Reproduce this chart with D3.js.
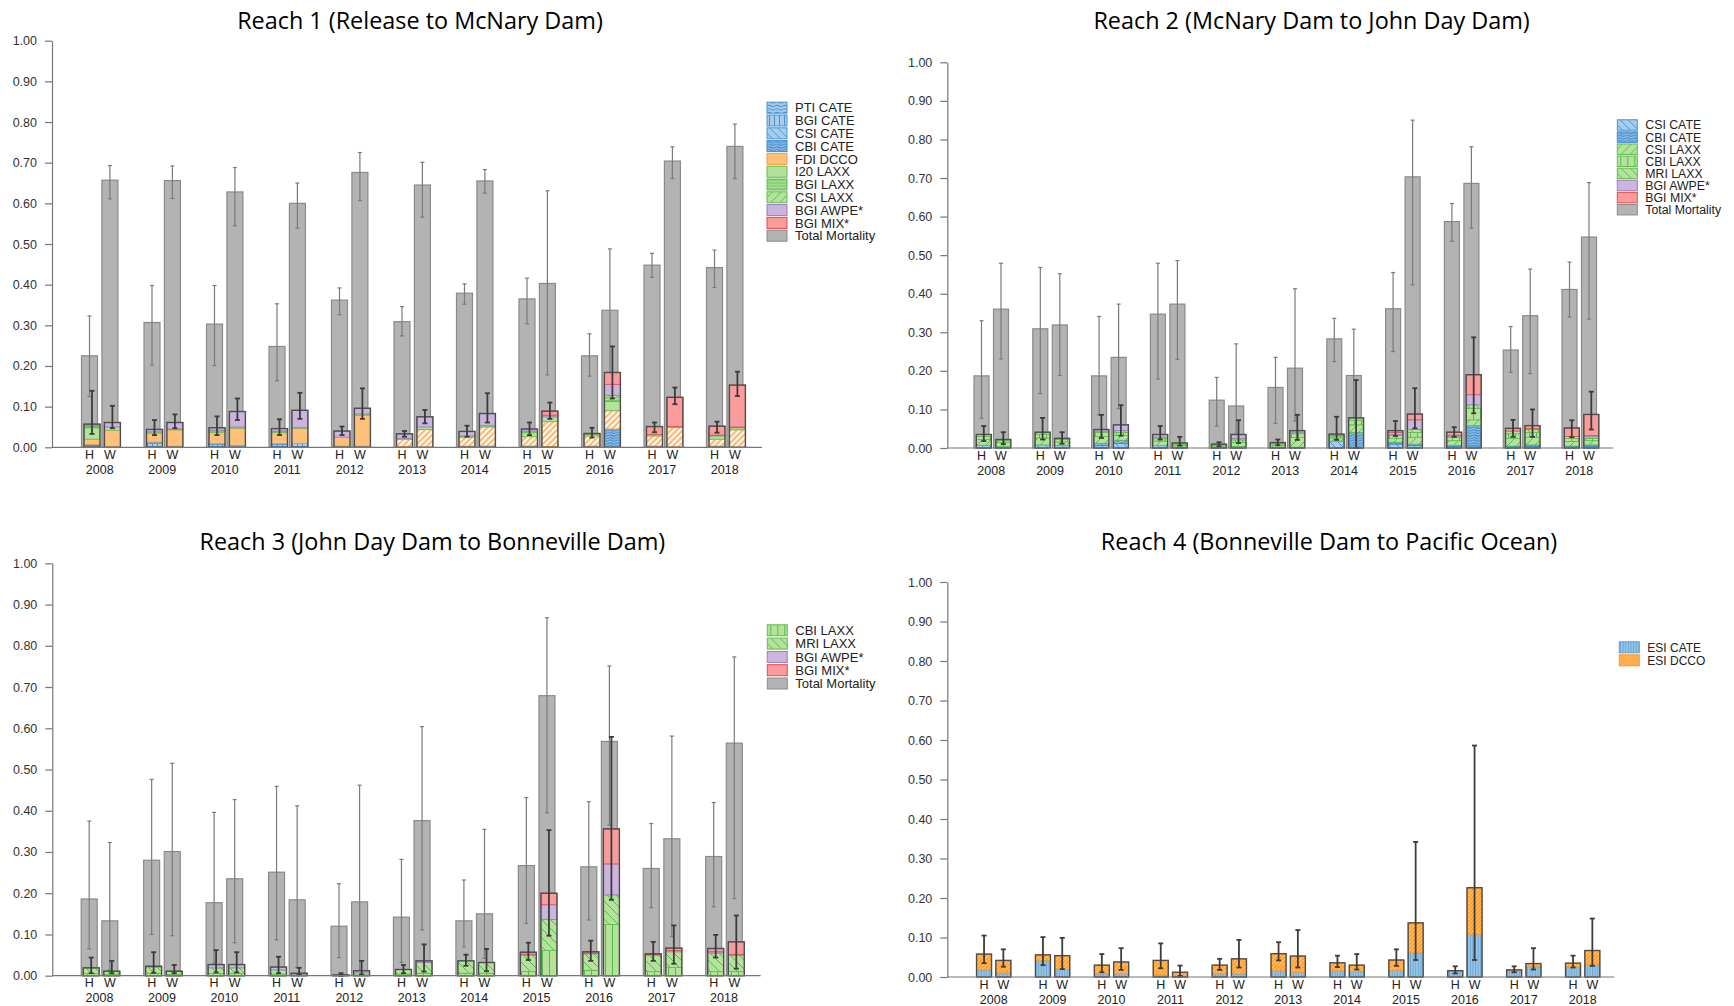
<!DOCTYPE html>
<html>
<head>
<meta charset="utf-8">
<script src="https://cdn.jsdelivr.net/npm/d3@7"></script>
<style>
body { margin: 0; background: #fff; }
text { font-family: "Liberation Sans", Arial, sans-serif; }
.title { font-family: "Open Sans", sans-serif; font-size: 23.4px; fill: #000; }
</style>
</head>
<body>
<svg id="chart" width="1734" height="1006"></svg>
<script>
var years = [2008, 2009, 2010, 2011, 2012, 2013, 2014, 2015, 2016, 2017, 2018];
var rearTypes = ["H", "W"];

// ---- Reach 1 ----
var r1Species = ["PTI CATE", "BGI CATE", "CSI CATE", "CBI CATE", "FDI DCCO", "I20 LAXX", "BGI LAXX", "CSI LAXX", "BGI AWPE*", "BGI MIX*"];
var r1H = [
    [0.002, 0.003, 0, 0.002, 0.013, 0.028, 0.003, 0.002, 0.004, 0],
    [0.002, 0.008, 0.003, 0, 0.022, 0.003, 0, 0, 0.006, 0],
    [0.002, 0.005, 0.002, 0, 0.027, 0.004, 0.002, 0, 0.006, 0],
    [0.002, 0.005, 0.002, 0, 0.027, 0.003, 0.001, 0, 0.006, 0],
    [0.001, 0.002, 0, 0, 0.022, 0, 0, 0, 0.015, 0],
    [0, 0.001, 0, 0, 0.019, 0.002, 0, 0, 0.011, 0],
    [0.001, 0.002, 0, 0, 0.022, 0.003, 0, 0, 0.011, 0],
    [0.001, 0.002, 0, 0, 0.023, 0.010, 0.004, 0, 0.005, 0],
    [0.001, 0.002, 0, 0, 0.025, 0.004, 0.002, 0, 0, 0],
    [0.001, 0.002, 0, 0, 0.025, 0.003, 0, 0, 0, 0.020],
    [0.001, 0.002, 0, 0, 0.017, 0.008, 0, 0, 0.002, 0.022]
];
var r1W = [
    [0, 0.001, 0, 0, 0.041, 0.008, 0, 0, 0.011, 0],
    [0, 0.003, 0, 0, 0.040, 0.002, 0, 0, 0.016, 0],
    [0.001, 0.004, 0, 0, 0.042, 0.003, 0, 0, 0.038, 0],
    [0.002, 0.008, 0, 0, 0.037, 0.001, 0, 0, 0.043, 0],
    [0, 0.003, 0, 0, 0.076, 0.003, 0, 0, 0.014, 0],
    [0, 0, 0, 0, 0.044, 0.006, 0, 0, 0.025, 0],
    [0, 0.003, 0, 0, 0.047, 0.003, 0, 0, 0.030, 0],
    [0, 0.002, 0, 0, 0.061, 0.012, 0, 0, 0.004, 0.010],
    [0, 0, 0, 0.045, 0.045, 0.023, 0.015, 0, 0.027, 0.029],
    [0, 0, 0, 0, 0.049, 0.002, 0, 0, 0, 0.072],
    [0, 0, 0, 0, 0.043, 0.005, 0, 0, 0.002, 0.103]
];
var r1ErrH = [[0.033, 0.139], [0.030, 0.067], [0.030, 0.076], [0.030, 0.069], [0.030, 0.051], [0.026, 0.040], [0.026, 0.053], [0.030, 0.061], [0.024, 0.048], [0.037, 0.061], [0.036, 0.063]];
var r1ErrW = [[0.047, 0.102], [0.047, 0.081], [0.067, 0.120], [0.070, 0.134], [0.070, 0.145], [0.059, 0.092], [0.061, 0.133], [0.070, 0.110], [0.120, 0.248], [0.106, 0.147], [0.126, 0.186]];
// total mortality: [estimate, lower, upper]
var r1TotH = [[0.225, 0.125, 0.323], [0.307, 0.202, 0.398], [0.303, 0.201, 0.398], [0.248, 0.164, 0.353], [0.362, 0.326, 0.392], [0.309, 0.274, 0.346], [0.379, 0.352, 0.402], [0.365, 0.304, 0.416], [0.225, 0.175, 0.279], [0.448, 0.418, 0.477], [0.442, 0.393, 0.485]];
var r1TotW = [[0.657, 0.611, 0.693], [0.656, 0.612, 0.692], [0.628, 0.545, 0.688], [0.600, 0.539, 0.650], [0.676, 0.607, 0.725], [0.645, 0.566, 0.701], [0.655, 0.625, 0.683], [0.403, 0.178, 0.631], [0.337, 0.180, 0.488], [0.704, 0.661, 0.739], [0.740, 0.661, 0.795]];
var r1HatchedDccoYears = [2013, 2014, 2015, 2016, 2017, 2018];

// ---- Reach 2 ----
var r2Species = ["CSI CATE", "CBI CATE", "CSI LAXX", "CBI LAXX", "MRI LAXX", "BGI AWPE*", "BGI MIX*"];
var r2H = [
    [0.007, 0, 0.015, 0.008, 0.005, 0, 0],
    [0.008, 0, 0.018, 0.010, 0.005, 0, 0],
    [0.006, 0.006, 0.018, 0.010, 0.004, 0.004, 0],
    [0.006, 0, 0.012, 0.006, 0.004, 0.007, 0],
    [0.001, 0, 0.004, 0.003, 0.002, 0, 0],
    [0.002, 0, 0.006, 0.004, 0.002, 0, 0],
    [0.018, 0, 0.008, 0.005, 0.002, 0.003, 0],
    [0.010, 0.005, 0.010, 0.007, 0.003, 0.005, 0.005],
    [0.004, 0.003, 0.012, 0.008, 0.004, 0.002, 0.008],
    [0.003, 0.002, 0.020, 0.012, 0.007, 0, 0.007],
    [0.003, 0.002, 0.012, 0.008, 0.005, 0, 0.022]
];
var r2W = [
    [0.004, 0, 0.010, 0.005, 0.003, 0, 0],
    [0.006, 0, 0.010, 0.006, 0.003, 0, 0],
    [0.012, 0.008, 0.012, 0.008, 0.005, 0.015, 0],
    [0.002, 0, 0.004, 0.004, 0.003, 0, 0],
    [0.004, 0, 0.010, 0.007, 0.004, 0.010, 0],
    [0.002, 0, 0.025, 0.010, 0.004, 0.004, 0],
    [0, 0.040, 0.020, 0.012, 0.006, 0, 0],
    [0.006, 0.004, 0.018, 0.012, 0.008, 0.025, 0.015],
    [0.005, 0.053, 0.015, 0.030, 0.009, 0.026, 0.052],
    [0.004, 0.004, 0.020, 0.012, 0.008, 0.002, 0.008],
    [0.004, 0.004, 0.011, 0.006, 0.004, 0.003, 0.055]
];
var r2ErrH = [[0.018, 0.057], [0.022, 0.078], [0.026, 0.086], [0.022, 0.057], [0.004, 0.015], [0.007, 0.022], [0.021, 0.081], [0.031, 0.070], [0.029, 0.054], [0.029, 0.073], [0.028, 0.072]];
var r2ErrW = [[0.010, 0.041], [0.011, 0.041], [0.032, 0.111], [0.006, 0.029], [0.013, 0.072], [0.021, 0.086], [0.000, 0.176], [0.051, 0.155], [0.090, 0.287], [0.029, 0.100], [0.048, 0.146]];
var r2TotH = [[0.187, 0.077, 0.330], [0.309, 0.141, 0.468], [0.187, 0.086, 0.341], [0.347, 0.179, 0.479], [0.124, 0.057, 0.183], [0.157, 0.064, 0.235], [0.283, 0.224, 0.336], [0.361, 0.250, 0.455], [0.587, 0.536, 0.634], [0.254, 0.196, 0.315], [0.411, 0.339, 0.482]];
var r2TotW = [[0.360, 0.231, 0.479], [0.319, 0.188, 0.452], [0.235, 0.102, 0.373], [0.373, 0.230, 0.486], [0.109, 0.005, 0.270], [0.207, 0.070, 0.413], [0.188, 0.070, 0.308], [0.703, 0.423, 0.850], [0.686, 0.570, 0.781], [0.343, 0.193, 0.464], [0.547, 0.334, 0.688]];

// ---- Reach 3 ----
var r3Species = ["CBI LAXX", "MRI LAXX", "BGI AWPE*", "BGI MIX*"];
var r3H = [[0.005, 0.014, 0, 0], [0.006, 0.015, 0.002, 0], [0.005, 0.014, 0.008, 0], [0.004, 0.010, 0.007, 0], [0.001, 0.001, 0, 0], [0.004, 0.011, 0, 0], [0.006, 0.030, 0, 0], [0.010, 0.040, 0.002, 0.005], [0.013, 0.040, 0.002, 0.003], [0.010, 0.040, 0.001, 0.002], [0.010, 0.045, 0.003, 0.008]];
var r3W = [[0.003, 0.008, 0, 0], [0.003, 0.007, 0.001, 0], [0.005, 0.014, 0.008, 0], [0.001, 0.003, 0.002, 0], [0.002, 0.005, 0.005, 0], [0.006, 0.026, 0.004, 0], [0.006, 0.026, 0, 0], [0.061, 0.075, 0.036, 0.028], [0.124, 0.072, 0.075, 0.085], [0.020, 0.038, 0.003, 0.006], [0.010, 0.039, 0.003, 0.030]];
var r3ErrH = [[0.006, 0.044], [0.007, 0.057], [0.008, 0.062], [0.006, 0.046], [0, 0.006], [0.006, 0.026], [0.024, 0.051], [0.038, 0.080], [0.036, 0.085], [0.036, 0.082], [0.044, 0.099]];
var r3ErrW = [[0.006, 0.036], [0.006, 0.026], [0.008, 0.057], [0.002, 0.019], [0.003, 0.036], [0.010, 0.076], [0.011, 0.065], [0.097, 0.353], [0.184, 0.579], [0.029, 0.122], [0.017, 0.146]];
var r3TotH = [[0.186, 0.065, 0.375], [0.280, 0.100, 0.476], [0.177, 0.030, 0.396], [0.251, 0.087, 0.459], [0.120, 0.044, 0.223], [0.142, 0.032, 0.282], [0.133, 0.070, 0.232], [0.267, 0.127, 0.432], [0.264, 0.135, 0.422], [0.260, 0.165, 0.369], [0.289, 0.167, 0.420]];
var r3TotW = [[0.133, 0.014, 0.323], [0.301, 0.097, 0.515], [0.235, 0.080, 0.427], [0.184, 0.020, 0.412], [0.179, 0.010, 0.462], [0.376, 0.111, 0.604], [0.150, 0.042, 0.355], [0.679, 0.395, 0.868], [0.568, 0.365, 0.751], [0.332, 0.095, 0.581], [0.564, 0.187, 0.773]];

// ---- Reach 4 ----
var r4Species = ["ESI CATE", "ESI DCCO"];
var r4H = [[0.018, 0.040], [0.042, 0.014], [0.008, 0.022], [0.005, 0.037], [0.008, 0.022], [0.016, 0.043], [0.016, 0.020], [0.017, 0.026], [0.014, 0.002], [0.015, 0.003], [0.025, 0.010]];
var r4W = [[0.010, 0.032], [0.020, 0.034], [0.008, 0.030], [0.002, 0.010], [0.008, 0.038], [0.012, 0.041], [0.014, 0.016], [0.061, 0.076], [0.108, 0.118], [0.026, 0.008], [0.032, 0.035]];
var r4ErrH = [[0.035, 0.105], [0.030, 0.101], [0.012, 0.058], [0.022, 0.085], [0.018, 0.046], [0.042, 0.088], [0.025, 0.054], [0.028, 0.070], [0.009, 0.027], [0.012, 0.027], [0.024, 0.054]];
var r4ErrW = [[0.026, 0.070], [0.020, 0.099], [0.018, 0.073], [0.003, 0.029], [0.024, 0.094], [0.024, 0.119], [0.019, 0.058], [0.043, 0.342], [0.043, 0.586], [0.019, 0.073], [0.028, 0.148]];

// fill styles per legend key
var speciesStyle = {
    "PTI CATE":  {base: "#a8cdea", line: "#3d8bd1", kind: "wave", s: 3.5, stroke: "#4b95d4"},
    "BGI CATE":  {base: "#a8cdea", line: "#3d8bd1", kind: "vert", s: 5, stroke: "#4b95d4"},
    "CSI CATE":  {base: "#a8cdea", line: "#3d8bd1", kind: "back", s: 8, stroke: "#4b95d4"},
    "CBI CATE":  {base: "#92c1e6", line: "#2f7fca", kind: "wave", s: 2.6, stroke: "#3f8bd0"},
    "FDI DCCO":  {base: "#fec07b", kind: "solid", stroke: "#f0a040"},
    "FDI DCCO hatched": {base: "#fec07b", line: "#ffffff", kind: "fwd", s: 6, w: 1.6, stroke: "#f0a040"},
    "I20 LAXX":  {base: "#b4e29a", kind: "solid", stroke: "#5fbc4f"},
    "BGI LAXX":  {base: "#b4e29a", line: "#4cb543", kind: "wave", s: 3, stroke: "#5fbc4f"},
    "CSI LAXX":  {base: "#b4e29a", line: "#4cb543", kind: "fwd", s: 9, stroke: "#5fbc4f"},
    "CBI LAXX":  {base: "#b4e29a", line: "#4cb543", kind: "vert", s: 7, stroke: "#5fbc4f"},
    "MRI LAXX":  {base: "#b4e29a", line: "#4cb543", kind: "back", s: 9, stroke: "#5fbc4f"},
    "BGI AWPE*": {base: "#cbb4dd", kind: "solid", stroke: "#9a7cc2"},
    "BGI MIX*":  {base: "#fb9c9c", kind: "solid", stroke: "#e64a4d"},
    "Total Mortality": {base: "#b3b3b3", kind: "solid", stroke: "#8a8a8a"},
    "ESI CATE":  {base: "#96c4e6", line: "#5d9fd0", kind: "vert", s: 2.6, w: 0.7, stroke: "#5d9fd0"},
    "ESI DCCO":  {base: "#ffa63f", line: "#ffc680", kind: "fwd", s: 4, stroke: "#f59a30"}
};

var panels = [
    {title: "Reach 1 (Release to McNary Dam)", titleX: 420, titleY: 29,
     axisX: 52, yTop: 40.7, yBottom: 447.3, xEnd: 762, firstCenter: 99.7, step: 62.5, barW: 16, sep: 20.4, shift: 2.5,
     legendX: 767, legendY: 107.7, rowH: 12.8, legendFont: 13,
     species: r1Species, compH: r1H, compW: r1W, errH: r1ErrH, errW: r1ErrW, totH: r1TotH, totW: r1TotW, hatched: r1HatchedDccoYears},
    {title: "Reach 2 (McNary Dam to John Day Dam)", titleX: 1311.6, titleY: 29,
     axisX: 947.3, yTop: 62.3, yBottom: 448, xEnd: 1613.3, firstCenter: 991.25, step: 58.8, barW: 15, sep: 19.5, shift: 2.3,
     legendX: 1617.3, legendY: 125, rowH: 12.1, legendFont: 12.3,
     species: r2Species, compH: r2H, compW: r2W, errH: r2ErrH, errW: r2ErrW, totH: r2TotH, totW: r2TotW, hatched: []},
    {title: "Reach 3 (John Day Dam to Bonneville Dam)", titleX: 432.4, titleY: 550,
     axisX: 52.3, yTop: 563.3, yBottom: 975.7, xEnd: 760.7, firstCenter: 99.5, step: 62.45, barW: 16, sep: 20.6, shift: 2,
     legendX: 767.3, legendY: 630.3, rowH: 13.3, legendFont: 13,
     species: r3Species, compH: r3H, compW: r3W, errH: r3ErrH, errW: r3ErrW, totH: r3TotH, totW: r3TotW, hatched: []},
    {title: "Reach 4 (Bonneville Dam to Pacific Ocean)", titleX: 1329, titleY: 550,
     axisX: 947.3, yTop: 582, yBottom: 977, xEnd: 1614.3, firstCenter: 993.7, step: 58.9, barW: 15, sep: 19.3, shift: 0,
     legendX: 1619.3, legendY: 647.3, rowH: 13, legendFont: 12,
     species: r4Species, compH: r4H, compW: r4W, errH: r4ErrH, errW: r4ErrW, totH: null, totW: null, hatched: []}
];

var svg = d3.select("#chart");
var defs = svg.append("defs");

function patId(name) { return "pat-" + name.replace(/[^A-Za-z0-9]/g, "_"); }

// build one pattern per style
Object.keys(speciesStyle).forEach(function(name) {
    var st = speciesStyle[name];
    var s = st.s || 6, w = st.w || 0.9;
    var tw = st.kind === "wave" ? 8 : s;
    var p = defs.append("pattern")
        .attr("id", patId(name))
        .attr("patternUnits", "userSpaceOnUse")
        .attr("width", tw).attr("height", s);
    p.append("rect").attr("width", tw).attr("height", s).attr("fill", st.base);
    var d = null;
    if (st.kind === "vert") d = "M" + s / 2 + ",0V" + s;
    if (st.kind === "fwd") d = "M0," + s + "L" + s + ",0M-1,1L1,-1M" + (s - 1) + "," + (s + 1) + "L" + (s + 1) + "," + (s - 1);
    if (st.kind === "back") d = "M0,0L" + s + "," + s + "M-1," + (s - 1) + "L1," + (s + 1) + "M" + (s - 1) + ",-1L" + (s + 1) + ",1";
    if (st.kind === "wave") d = "M0," + s / 2 + "Q2," + (s / 2 - 1.3) + " 4," + s / 2 + "T8," + s / 2;
    if (d) p.append("path").attr("d", d).attr("fill", "none").attr("stroke", st.line).attr("stroke-width", w);
});

function errorBar(g, cx, lo, hi, y, color, width, cap) {
    g.append("line").attr("x1", cx).attr("x2", cx).attr("y1", y(lo)).attr("y2", y(hi))
        .attr("stroke", color).attr("stroke-width", width);
    [lo, hi].forEach(function(v) {
        g.append("line").attr("x1", cx - cap / 2).attr("x2", cx + cap / 2).attr("y1", y(v)).attr("y2", y(v))
            .attr("stroke", color).attr("stroke-width", width);
    });
}

function drawPanel(p) {
    var g = svg.append("g");
    var y = d3.scaleLinear().domain([0, 1]).range([p.yBottom, p.yTop]);
    var x0 = d3.scaleBand().domain(years)
        .range([p.firstCenter - p.step / 2, p.firstCenter + p.step * (years.length - 0.5)]);
    var half = (p.sep + p.barW) / 2;
    var x1 = d3.scaleBand().domain(rearTypes)
        .range([x0.bandwidth() / 2 - half, x0.bandwidth() / 2 + half])
        .paddingInner((p.sep - p.barW) / p.sep);

    // rows for stacking
    var rows = [];
    years.forEach(function(yr, i) {
        rearTypes.forEach(function(rt) {
            var comp = rt === "H" ? p.compH[i] : p.compW[i];
            var row = {year: yr, rt: rt, err: rt === "H" ? p.errH[i] : p.errW[i]};
            if (p.totH) row.tot = rt === "H" ? p.totH[i] : p.totW[i];
            p.species.forEach(function(sp, k) { row[sp] = comp[k]; });
            rows.push(row);
        });
    });
    var series = d3.stack().keys(p.species)(rows);

    // y axis
    var ax = g.append("g").attr("transform", "translate(" + p.axisX + ",0)")
        .call(d3.axisLeft(y).tickValues(d3.range(0, 1.001, 0.1)).tickFormat(d3.format(".2f"))
            .tickSize(7).tickSizeOuter(0).tickPadding(8));
    ax.select(".domain").attr("stroke", "#777").attr("stroke-width", 1.2);
    ax.selectAll(".tick line").attr("stroke", "#777").attr("stroke-width", 1.2);
    ax.selectAll(".tick text").attr("fill", "#333").style("font-size", "12.5px")
        .style("font-family", "'Liberation Sans', Arial, sans-serif");

    // total mortality bars
    if (p.totH) {
        g.selectAll(".tot").data(rows).join("rect")
            .attr("x", function(d) { return x0(d.year) + x1(d.rt); })
            .attr("width", x1.bandwidth())
            .attr("y", function(d) { return y(d.tot[0]); })
            .attr("height", function(d) { return y(0) - y(d.tot[0]); })
            .attr("fill", speciesStyle["Total Mortality"].base)
            .attr("stroke", speciesStyle["Total Mortality"].stroke).attr("stroke-width", 1.2);
        rows.forEach(function(d) {
            errorBar(g, x0(d.year) + x1(d.rt) + x1.bandwidth() / 2, d.tot[1], d.tot[2], y, "#7b7b7b", 1.2, 4);
        });
    }

    // stacked components
    series.forEach(function(s) {
        var sp = s.key;
        g.append("g").selectAll("rect").data(s.filter(function(d) { return d[1] - d[0] > 0; })).join("rect")
            .attr("x", function(d) { return x0(d.data.year) + x1(d.data.rt) + p.shift; })
            .attr("width", x1.bandwidth())
            .attr("y", function(d) { return y(d[1]); })
            .attr("height", function(d) { return y(d[0]) - y(d[1]); })
            .attr("fill", function(d) {
                var key = (sp === "FDI DCCO" && p.hatched.indexOf(d.data.year) >= 0) ? "FDI DCCO hatched" : sp;
                return "url(#" + patId(key) + ")";
            })
            .attr("stroke", speciesStyle[sp].stroke).attr("stroke-width", 0.8);
    });
    var top = series[series.length - 1];
    g.append("g").selectAll("rect").data(top).join("rect")
        .attr("x", function(d) { return x0(d.data.year) + x1(d.data.rt) + p.shift; })
        .attr("width", x1.bandwidth())
        .attr("y", function(d) { return y(d[1]); })
        .attr("height", function(d) { return y(0) - y(d[1]); })
        .attr("fill", "none").attr("stroke", "#4d4d4d").attr("stroke-width", 1.4);
    rows.forEach(function(d) {
        errorBar(g, x0(d.year) + x1(d.rt) + p.shift + x1.bandwidth() / 2, d.err[0], d.err[1], y, "#3c3c3c", 1.8, 5);
    });

    // x baseline and labels
    g.append("line").attr("x1", p.axisX).attr("x2", p.xEnd).attr("y1", y(0)).attr("y2", y(0))
        .attr("stroke", "#777").attr("stroke-width", 1.2);
    rows.forEach(function(d) {
        g.append("text").attr("x", x0(d.year) + x1(d.rt) + x1.bandwidth() / 2).attr("y", y(0) + 11.5)
            .attr("text-anchor", "middle").attr("font-size", 12.5).attr("fill", "#222").text(d.rt);
    });
    years.forEach(function(yr) {
        g.append("text").attr("x", x0(yr) + x0.bandwidth() / 2).attr("y", y(0) + 26.5)
            .attr("text-anchor", "middle").attr("font-size", 12.5).attr("fill", "#222").text(yr);
    });

    // title
    g.append("text").attr("class", "title").attr("x", p.titleX).attr("y", p.titleY)
        .attr("text-anchor", "middle").text(p.title);

    // legend
    var keys = p.species.slice();
    if (p.totH) keys.push("Total Mortality");
    var sh = Math.min(p.rowH - 1.6, 11);
    var lg = g.append("g").selectAll("g").data(keys).join("g")
        .attr("transform", function(d, i) { return "translate(" + p.legendX + "," + (p.legendY + i * p.rowH) + ")"; });
    lg.append("rect").attr("x", 0).attr("y", -sh / 2).attr("width", 20).attr("height", sh)
        .attr("fill", function(d) { return "url(#" + patId(d) + ")"; })
        .attr("stroke", function(d) { return speciesStyle[d].stroke; }).attr("stroke-width", 1);
    lg.append("text").attr("x", 28).attr("y", p.legendFont * 0.36).attr("font-size", p.legendFont).attr("fill", "#222")
        .text(function(d) { return d; });
}

panels.forEach(drawPanel);
</script>
</body>
</html>
